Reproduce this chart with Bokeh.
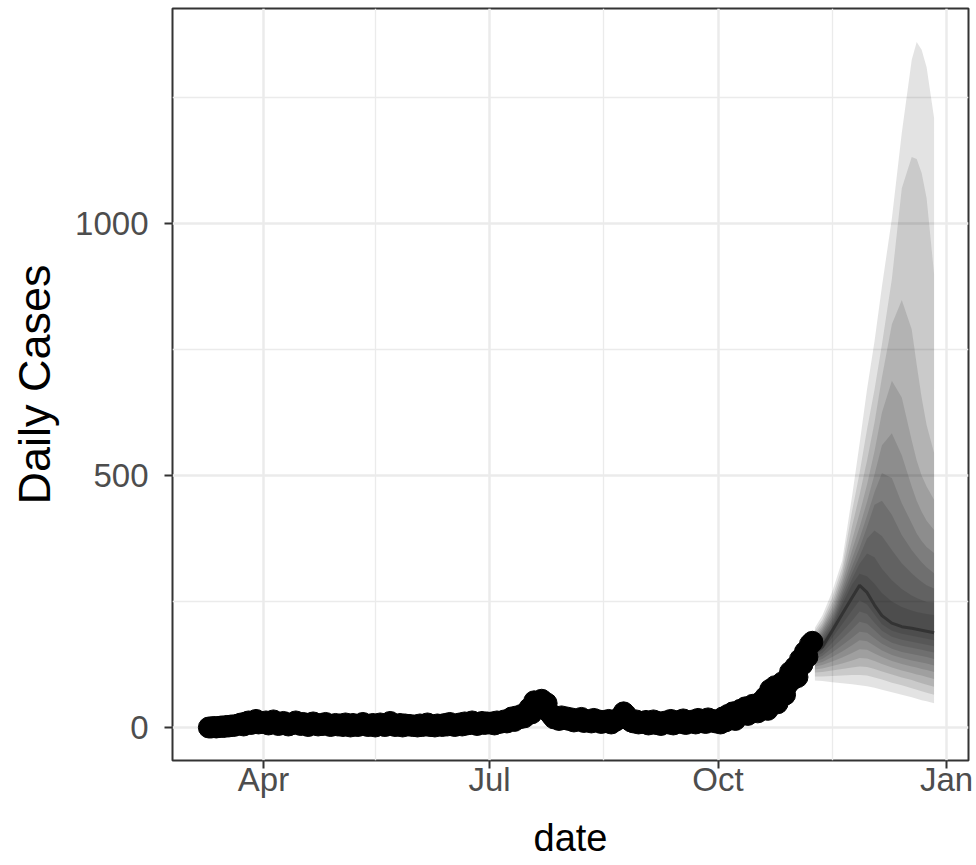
import pandas as pd
from datetime import datetime, timedelta
from bokeh.plotting import figure
from bokeh.models import Range1d, FixedTicker, DatetimeTickFormatter
from bokeh.embed import file_html
from bokeh.resources import INLINE

# ---------------- observed daily cases (2020) ----------------
cases_mar = [0, 0, 1, 0, 1, 2, 1, 3, 2, 4, 3, 5, 6, 8, 4, 10, 12, 7, 9, 15, 8, 10]          # from Mar 10
cases_apr = [9, 12, 6, 8, 14, 10, 5, 7, 11, 9, 4, 6, 8, 12, 7, 5, 9, 6, 3, 8, 10, 6, 4, 7, 5, 9, 6, 3, 5, 7]
cases_may = [4, 6, 3, 8, 5, 2, 7, 4, 3, 6, 9, 5, 3, 4, 7, 2, 5, 8, 4, 3, 6, 11, 5, 3, 4, 7, 2, 6, 4, 5, 3]
cases_jun = [4, 2, 6, 3, 5, 8, 3, 4, 2, 6, 5, 3, 7, 4, 9, 5, 3, 6, 8, 4, 10, 6, 7, 12, 8, 5, 9, 11, 7, 10]
cases_jul = [8, 10, 6, 12, 9, 11, 14, 10, 16, 20, 13, 22, 18, 25, 20, 30, 38, 28, 52, 40, 45, 55, 38, 48, 30, 24, 18, 20, 15, 22, 17]
cases_aug = [20, 15, 18, 12, 16, 14, 19, 11, 15, 13, 10, 17, 12, 14, 9, 13, 11, 15, 8, 12, 14, 18, 22, 30, 25, 16, 12, 10, 14, 8, 11]
cases_sep = [9, 13, 6, 10, 14, 7, 11, 5, 9, 12, 8, 15, 6, 10, 13, 9, 16, 7, 12, 10, 14, 8, 17, 11, 13, 9, 18, 12, 15, 10]
cases_oct = [14, 8, 20, 12, 25, 18, 30, 15, 22, 35, 28, 40, 25, 32, 45, 38, 30, 50, 42, 60, 35, 75, 55, 82, 48, 70, 90, 65, 85, 110, 95]
cases_nov = [120, 100, 135, 125, 150, 140, 165, 170]
month_starts = ["2020-03-10", "2020-04-01", "2020-05-01", "2020-06-01", "2020-07-01",
                "2020-08-01", "2020-09-01", "2020-10-01", "2020-11-01"]

# ---------------- forecast quantiles ----------------
fc_dates = ["2020-11-09", "2020-11-12", "2020-11-16", "2020-11-20", "2020-11-24", "2020-11-27",
            "2020-11-30", "2020-12-03", "2020-12-06", "2020-12-10", "2020-12-14", "2020-12-18",
            "2020-12-20", "2020-12-22", "2020-12-24", "2020-12-27"]
fc_median = [148, 160, 192, 225, 258, 282, 268, 243, 222, 207, 200, 197, 195, 193, 191, 188]

upper_1 = [198, 222, 270, 331, 460, 563, 671, 766, 875, 1010, 1180, 1325, 1360, 1345, 1310, 1210]
upper_2 = [192, 214, 258, 318, 430, 505, 592, 670, 760, 890, 1070, 1132, 1128, 1100, 1050, 900]
upper_3 = [186, 207, 248, 306, 400, 462, 530, 605, 695, 800, 848, 790, 720, 655, 600, 545]
upper_4 = [181, 201, 239, 295, 372, 425, 482, 548, 625, 688, 655, 570, 530, 500, 478, 452]
upper_5 = [176, 196, 231, 285, 352, 398, 448, 502, 560, 584, 540, 478, 450, 428, 410, 392]
upper_6 = [172, 191, 224, 276, 335, 375, 420, 467, 505, 495, 445, 405, 385, 370, 358, 346]
upper_7 = [167, 186, 217, 268, 320, 356, 398, 442, 450, 422, 382, 352, 340, 328, 318, 306]
upper_8 = [163, 181, 211, 260, 307, 340, 375, 391, 380, 352, 326, 306, 297, 289, 282, 276]
upper_9 = [158, 175, 205, 252, 295, 325, 345, 338, 315, 292, 275, 262, 257, 253, 249, 248]
upper_10 = [154, 170, 199, 244, 284, 305, 300, 285, 267, 250, 239, 232, 229, 227, 225, 223]

lower_10 = [144, 154, 178, 205, 232, 252, 244, 224, 205, 192, 186, 182, 180, 178, 176, 173]
lower_9 = [140, 148, 168, 190, 212, 230, 225, 208, 192, 180, 174, 170, 168, 166, 164, 161]
lower_8 = [136, 142, 158, 176, 195, 210, 206, 193, 179, 168, 162, 158, 156, 154, 152, 149]
lower_7 = [131, 136, 149, 163, 178, 190, 188, 177, 166, 156, 150, 146, 144, 142, 140, 136]
lower_6 = [126, 130, 140, 151, 163, 173, 171, 162, 153, 144, 138, 133, 131, 129, 127, 123]
lower_5 = [121, 124, 131, 139, 148, 155, 154, 147, 140, 132, 126, 121, 119, 116, 114, 110]
lower_4 = [115, 117, 122, 127, 133, 138, 137, 132, 126, 119, 113, 108, 105, 103, 100, 96]
lower_3 = [109, 110, 113, 116, 119, 121, 120, 116, 111, 105, 99, 94, 91, 88, 85, 81]
lower_2 = [101, 101, 102, 103, 104, 104, 103, 99, 95, 89, 84, 78, 75, 72, 69, 65]
lower_1 = [93, 92, 90, 88, 86, 84, 82, 79, 75, 70, 65, 60, 57, 54, 52, 48]

x_tick_dates = ["2020-04-01", "2020-07-01", "2020-10-01", "2021-01-01"]
x_minor_dates = ["2020-02-15", "2020-05-16", "2020-08-16", "2020-11-16"]
y_ticks = [0, 500, 1000]
y_minor = [250, 750, 1250]

# ---------------- assemble ----------------
monthly = [cases_mar, cases_apr, cases_may, cases_jun, cases_jul, cases_aug, cases_sep, cases_oct, cases_nov]
obs_dates, obs_cases = [], []
for start, vals in zip(month_starts, monthly):
    obs_dates += list(pd.date_range(start, periods=len(vals), freq="D"))
    obs_cases += vals

fcx = pd.to_datetime(fc_dates)
uppers = [upper_1, upper_2, upper_3, upper_4, upper_5, upper_6, upper_7, upper_8, upper_9, upper_10]
lowers = [lower_1, lower_2, lower_3, lower_4, lower_5, lower_6, lower_7, lower_8, lower_9, lower_10]

def ms(d):
    return pd.Timestamp(d).timestamp() * 1000.0

x_start = datetime(2020, 4, 1) - timedelta(days=36.64)
x_end = datetime(2021, 1, 1) + timedelta(days=8.86)

FONT = "Liberation Sans"

p = figure(width=976, height=865, x_axis_type="datetime",
           x_range=Range1d(x_start, x_end), y_range=Range1d(-65.5, 1426.6),
           min_border_left=172, min_border_right=8, min_border_top=8, min_border_bottom=105,
           output_backend="svg", toolbar_location=None,
           background_fill_color="white", border_fill_color="white")

for lo, up in zip(lowers, uppers):
    p.varea(x=fcx, y1=lo, y2=up, fill_color="black", fill_alpha=0.11)

p.line(fcx, fc_median, line_color="#333333", line_width=3)
p.scatter(obs_dates, obs_cases, size=21, fill_color="black", line_color="black")

p.xaxis.ticker = FixedTicker(ticks=[ms(d) for d in x_tick_dates], minor_ticks=[ms(d) for d in x_minor_dates])
p.xaxis.formatter = DatetimeTickFormatter(months="%b", days="%b", years="%b")
p.yaxis.ticker = FixedTicker(ticks=y_ticks, minor_ticks=y_minor)

for g in (p.xgrid, p.ygrid):
    g.grid_line_color = "#ebebeb"
    g.grid_line_width = 2.5
    g.minor_grid_line_color = "#ebebeb"
    g.minor_grid_line_width = 1.3

p.outline_line_color = "#333333"
p.outline_line_width = 2

for ax in (p.xaxis, p.yaxis):
    ax.axis_line_color = None
    ax.major_tick_line_color = "#333333"
    ax.major_tick_line_width = 2
    ax.major_tick_out = 8
    ax.major_tick_in = 0
    ax.minor_tick_line_color = None
    ax.major_label_text_color = "#4d4d4d"
    ax.major_label_text_font = FONT
    ax.major_label_text_font_size = "33px"
    ax.axis_label_text_font = FONT
    ax.axis_label_text_font_style = "normal"
    ax.axis_label_text_color = "black"

p.xaxis.axis_label = "date"
p.yaxis.axis_label = "Daily Cases"
p.xaxis.axis_label_text_font_size = "38px"
p.yaxis.axis_label_text_font_size = "45px"
p.xaxis.major_label_standoff = -8
p.yaxis.major_label_standoff = 16
p.xaxis.axis_label_standoff = 16
p.yaxis.axis_label_standoff = 12

open("out.html", "w").write(file_html(p, INLINE))
